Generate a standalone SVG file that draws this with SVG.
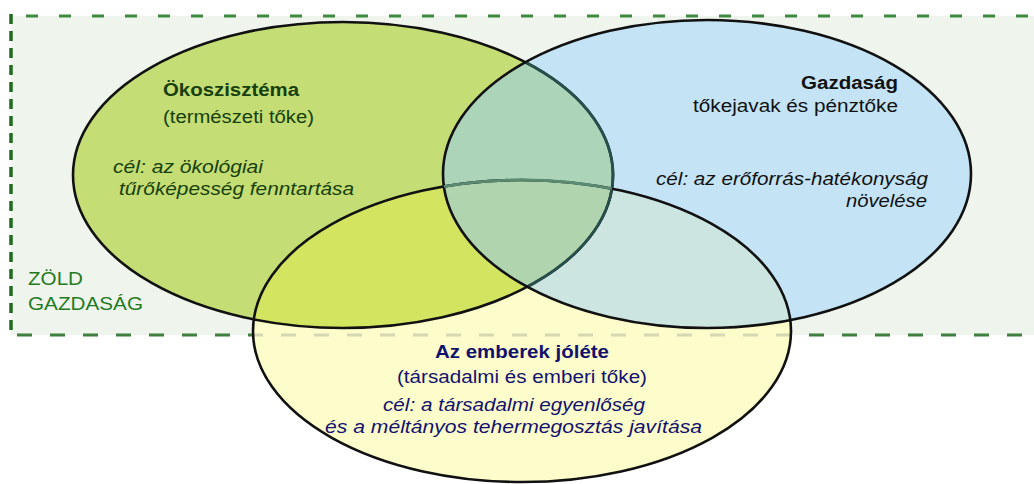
<svg xmlns="http://www.w3.org/2000/svg" width="1034" height="484" viewBox="0 0 1034 484">
<style>
text{font-family:"Liberation Sans",Arial,sans-serif;font-size:17.5px}
.b{font-weight:bold}
.i{font-style:italic}
.gt{fill:#173f0c}
.kt{fill:#111}
.yt{fill:#12126e}
.zt{fill:#1f7a1f;font-size:19px}
.edge{fill:none;stroke:#111;stroke-width:2.6}
</style>
<defs>
<clipPath id="cG"><ellipse cx="343" cy="175" rx="270" ry="153"/></clipPath>
<clipPath id="cB"><ellipse cx="707" cy="174" rx="264" ry="154"/></clipPath>
<clipPath id="cY"><ellipse cx="522" cy="331" rx="269" ry="151"/></clipPath>
</defs>
<rect width="1034" height="484" fill="#fff"/>
<g id="zold-gazdasag">
<rect x="11" y="16" width="1030" height="319" fill="#eff5ed"/>
<line x1="26" y1="16" x2="1034" y2="16" stroke="#3f8a3f" stroke-width="3" stroke-dasharray="12 21"/>
<line x1="11" y1="14" x2="11" y2="330" stroke="#1e6b1e" stroke-width="3.5" stroke-dasharray="10 7"/>
<line x1="17" y1="335" x2="1034" y2="335" stroke="#3f7f3f" stroke-width="3" stroke-dasharray="15 18"/>
<text class="zt" x="28" y="285" textLength="55" lengthAdjust="spacingAndGlyphs">ZÖLD</text>
<text class="zt" x="28" y="310" textLength="115" lengthAdjust="spacingAndGlyphs">GAZDASÁG</text>
</g>
<g id="fills">
<ellipse cx="343" cy="175" rx="270" ry="153" fill="#c4dd74"/>
<ellipse cx="707" cy="174" rx="264" ry="154" fill="#c4e4f6"/>
<ellipse cx="522" cy="331" rx="269" ry="151" fill="#fdfdcc"/>
<g clip-path="url(#cG)"><ellipse cx="707" cy="174" rx="264" ry="154" fill="#acd4b8"/></g>
<g clip-path="url(#cG)"><ellipse cx="522" cy="331" rx="269" ry="151" fill="#d3e560"/></g>
<g clip-path="url(#cB)"><ellipse cx="522" cy="331" rx="269" ry="151" fill="#cce5e0"/></g>
<g clip-path="url(#cG)"><g clip-path="url(#cB)"><ellipse cx="522" cy="331" rx="269" ry="151" fill="#b0d5ae"/></g></g>
<g clip-path="url(#cY)"><line x1="17" y1="335" x2="1034" y2="335" stroke="#d6d8b2" stroke-width="3" stroke-dasharray="15 18"/></g>
</g>
<g id="ecosystem">
<ellipse class="edge" cx="343" cy="175" rx="270" ry="153"/>
<g clip-path="url(#cB)"><ellipse cx="343" cy="175" rx="270" ry="153" fill="none" stroke="#27504c" stroke-width="2.8"/></g>
<text class="gt b" x="163" y="96" textLength="136" lengthAdjust="spacingAndGlyphs">Ökoszisztéma</text>
<text class="gt" x="163" y="123" textLength="151" lengthAdjust="spacingAndGlyphs">(természeti tőke)</text>
<text class="gt i" x="113" y="173" textLength="150" lengthAdjust="spacingAndGlyphs">cél: az ökológiai</text>
<text class="gt i" x="119" y="195" textLength="235" lengthAdjust="spacingAndGlyphs">tűrőképesség fenntartása</text>
</g>
<g id="economy">
<ellipse class="edge" cx="707" cy="174" rx="264" ry="154"/>
<text class="kt b" x="801" y="89" textLength="97" lengthAdjust="spacingAndGlyphs">Gazdaság</text>
<text class="kt" x="693" y="112" textLength="205" lengthAdjust="spacingAndGlyphs">tőkejavak és pénztőke</text>
<text class="kt i" x="656" y="185" textLength="272" lengthAdjust="spacingAndGlyphs">cél: az erőforrás-hatékonyság</text>
<text class="kt i" x="846" y="207" textLength="81" lengthAdjust="spacingAndGlyphs">növelése</text>
</g>
<g id="wellbeing">
<ellipse class="edge" cx="522" cy="331" rx="269" ry="151"/>
<g clip-path="url(#cG)"><g clip-path="url(#cB)"><ellipse cx="522" cy="331" rx="269" ry="151" fill="none" stroke="#5a8a72" stroke-width="2.8"/></g></g>
<text class="yt b" x="435" y="358" textLength="174" lengthAdjust="spacingAndGlyphs">Az emberek jóléte</text>
<text class="yt" x="397" y="383" textLength="250" lengthAdjust="spacingAndGlyphs">(társadalmi és emberi tőke)</text>
<text class="yt i" x="383" y="411" textLength="262" lengthAdjust="spacingAndGlyphs">cél: a társadalmi egyenlőség</text>
<text class="yt i" x="325" y="433" textLength="377" lengthAdjust="spacingAndGlyphs">és a méltányos tehermegosztás javítása</text>
</g>
</svg>
